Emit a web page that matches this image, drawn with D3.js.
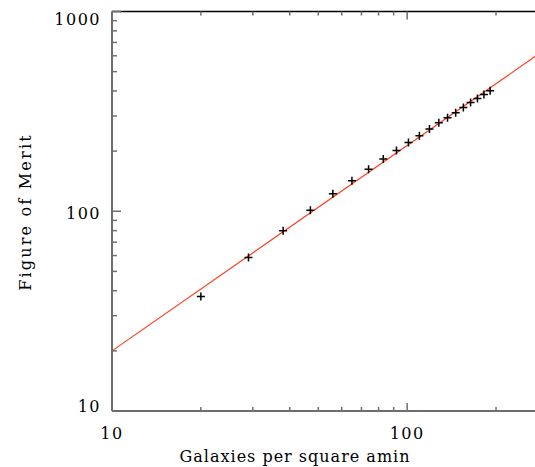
<!DOCTYPE html>
<html>
<head>
<meta charset="utf-8">
<script src="https://cdn.jsdelivr.net/npm/d3@7"></script>
<style>
  body { margin: 0; background: #fff; }
  text { font-family: "DejaVu Serif", serif; fill: #000; }
</style>
</head>
<body>
<div id="chart"></div>
<script>
// galaxies per square arcmin vs figure of merit
var density = [20, 29, 38, 47, 56, 65, 74, 83, 92, 101, 110, 119, 128, 137, 146, 155, 164, 173, 182, 191];
var merit = [37.4, 58.6, 79.8, 101.3, 122.2, 142, 162.5, 182.4, 201.2, 220.9, 238.6, 257.8, 277.2, 293.8, 311.2, 330.7, 350.4, 367, 384.3, 401];
// fitted line end points
var fitX = [10, 300];
var fitY = [20, 660];
var xTicks = [10, 100];
var yTicks = [10, 100, 1000];

var width = 535, height = 467;
var pLeft = 112, pRight = 548, pTop = 11.5, pBottom = 411;

var svg = d3.select("#chart").append("svg")
  .attr("width", width)
  .attr("height", height);

var x = d3.scaleLog().domain([10, 300]).range([pLeft, pRight]);
var y = d3.scaleLog().domain([10, 1000]).range([pBottom, pTop]);

function minorTicks(domain) {
  var out = [];
  for (var p = 1; p <= 1000; p *= 10) {
    for (var k = 2; k <= 9; k++) {
      var v = k * p;
      if (v > domain[0] && v < domain[1]) out.push(v);
    }
  }
  return out;
}
var xMinor = minorTicks(x.domain());
var yMinor = minorTicks(y.domain());
var axisCol = "#6e6e6e";

// fit line
svg.append("line")
  .attr("x1", x(fitX[0])).attr("y1", y(fitY[0]))
  .attr("x2", x(fitX[1])).attr("y2", y(fitY[1]))
  .attr("stroke", "#ff3b1f")
  .attr("stroke-width", 1.2);

// frame
svg.append("line").attr("x1", pLeft).attr("x2", pRight).attr("y1", pTop).attr("y2", pTop)
  .attr("stroke", "#000").attr("stroke-width", 1.5);
svg.append("line").attr("x1", pLeft).attr("x2", pRight).attr("y1", pBottom).attr("y2", pBottom)
  .attr("stroke", axisCol).attr("stroke-width", 2);
svg.append("line").attr("x1", pLeft).attr("x2", pLeft).attr("y1", pTop).attr("y2", pBottom)
  .attr("stroke", axisCol).attr("stroke-width", 2);

// x ticks bottom (up) and top (down)
var g = svg.append("g").attr("stroke", axisCol).attr("stroke-width", 1.5);
xTicks.concat(xMinor).forEach(function(v) {
  var len = xTicks.indexOf(v) >= 0 ? 8 : 4;
  g.append("line").attr("x1", x(v)).attr("x2", x(v)).attr("y1", pBottom).attr("y2", pBottom - len);
  g.append("line").attr("x1", x(v)).attr("x2", x(v)).attr("y1", pTop).attr("y2", pTop + len);
});
yTicks.concat(yMinor).forEach(function(v) {
  var len = yTicks.indexOf(v) >= 0 ? 9 : 5;
  g.append("line").attr("x1", pLeft).attr("x2", pLeft + len).attr("y1", y(v)).attr("y2", y(v));
});

// tick labels
svg.selectAll(".xl").data(xTicks).enter().append("text")
  .attr("x", function(d) { return x(d); })
  .attr("y", 439)
  .attr("text-anchor", "middle")
  .attr("font-size", 16)
  .attr("letter-spacing", 1.5)
  .text(function(d) { return d; });

var yShift = {10: -5, 100: 2, 1000: 8};
svg.selectAll(".yl").data(yTicks).enter().append("text")
  .attr("x", pLeft - 11)
  .attr("y", function(d) { return y(d) + yShift[d]; })
  .attr("dy", "0.35em")
  .attr("text-anchor", "end")
  .attr("font-size", 16)
  .attr("letter-spacing", 1.5)
  .text(function(d) { return d; });

// axis titles
svg.append("text")
  .attr("x", 295).attr("y", 462)
  .attr("text-anchor", "middle")
  .attr("font-size", 16)
  .attr("letter-spacing", 1)
  .text("Galaxies per square amin");

svg.append("text")
  .attr("transform", "translate(31,212) rotate(-90)")
  .attr("text-anchor", "middle")
  .attr("font-size", 16)
  .attr("letter-spacing", 2.2)
  .text("Figure of Merit");

// data points as plus signs
svg.append("g").selectAll("path")
  .data(density)
  .enter()
  .append("path")
    .attr("d", function(d, i) {
      var cx = x(d), cy = y(merit[i]);
      return "M" + (cx - 4) + "," + cy + "H" + (cx + 4) + "M" + cx + "," + (cy - 4) + "V" + (cy + 4);
    })
    .attr("stroke", "#000")
    .attr("stroke-width", 1.5)
    .attr("fill", "none");
</script>
</body>
</html>
